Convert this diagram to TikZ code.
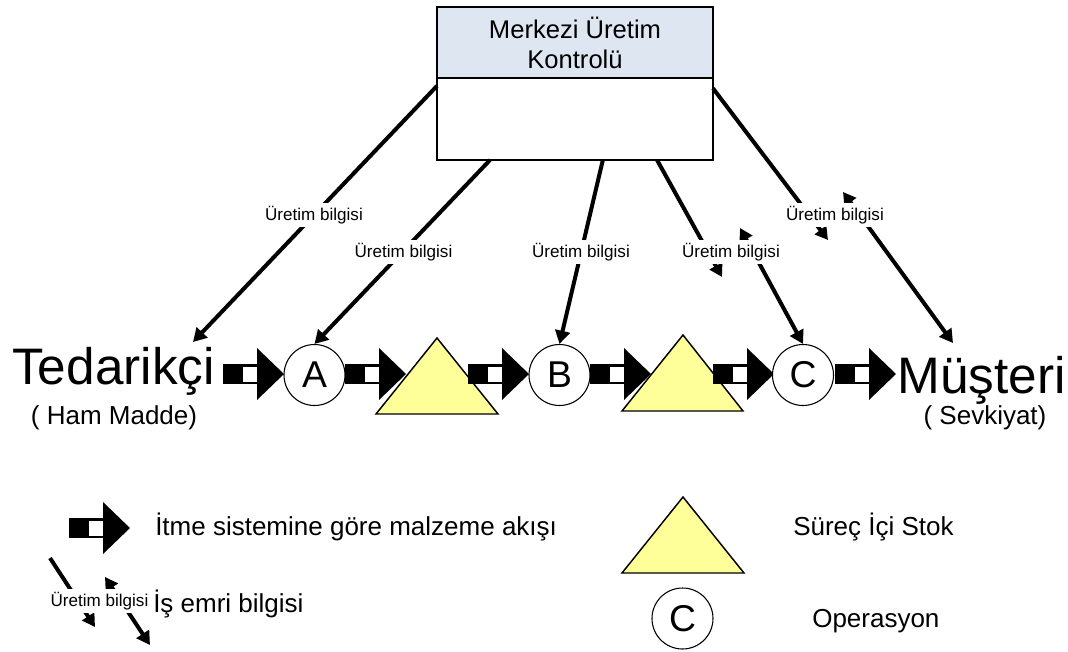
\documentclass[tikz,border=0pt]{standalone}
\usepackage{fontspec}
\setmainfont{Liberation Sans}
\usetikzlibrary{arrows.meta}
\definecolor{headblue}{RGB}{222,230,242}
\definecolor{stockyellow}{RGB}{255,255,153}
\begin{document}
\begin{tikzpicture}[x=0.75pt,y=-0.75pt,
  ctrlbox/.style={draw, line width=1pt, minimum width=207pt, minimum height=114.75pt,
    inner sep=0pt, outer sep=0pt, fill=white},
  headbox/.style={draw, line width=1pt, fill=headblue, minimum width=207pt,
    minimum height=53.25pt, inner sep=0pt, outer sep=0pt, align=center,
    font=\fontsize{19.2pt}{22.5pt}\selectfont},
  opnode/.style={circle, draw, line width=0.8pt, fill=white, minimum size=45.75pt,
    inner sep=0pt, font=\fontsize{28pt}{33pt}\selectfont},
  bigword/.style={inner sep=0pt, anchor=base west, font=\fontsize{38.5pt}{45pt}\selectfont},
  subword/.style={inner sep=0pt, anchor=base, font=\fontsize{19.5pt}{23pt}\selectfont},
  legtext/.style={inner sep=0pt, anchor=base west, font=\fontsize{19.5pt}{23pt}\selectfont},
  infolabel/.style={fill=white, inner sep=2pt, font=\fontsize{12.8pt}{15pt}\selectfont},
  infoline/.style={line width=3pt},
  bighead/.style={-{Triangle[length=10pt,width=11pt]}},
  smallhead/.style={-{Triangle[length=9.5pt,width=10.5pt]}},
  twohead/.style={{Triangle[length=9.5pt,width=10.5pt]}-{Triangle[length=10pt,width=11pt]}},
  stock/.style={draw, line width=1.1pt, fill=stockyellow, line join=miter},
  pics/pusharrow/.style={code={
    \fill[black] (0,-10) rectangle (35,10);
    \fill[white] (20,-7.5) rectangle (34,7.5);
    \fill[black] (34,-26) -- (61,0) -- (34,26) -- cycle;
  }},
]
\useasboundingbox (0,0) rectangle (1068,651);

% central control box with its header
\node[ctrlbox] (ctrl) at (575,83.5) {};
\node[headbox, anchor=north] (head) at (ctrl.north) {Merkezi Üretim\\Kontrolü};

% supplier and customer
\node[bigword] (ted) at (12,384) {Tedarikçi};
\node[subword] (tedsub) at (114,424) {( Ham Madde)};
\node[bigword] (mus) at (897,393) {Müşteri};
\node[subword] (mussub) at (985,424) {( Sevkiyat)};

% material flow line: push arrows, operations and in-process stock
\pic at (223,374) {pusharrow};
\node[opnode] (A) at (314.5,375) {A};
\pic at (345,374) {pusharrow};
\filldraw[stock] (376,414) -- (437,338) -- (498,414) -- cycle;
\pic at (468,374) {pusharrow};
\node[opnode] (B) at (559.5,375) {B};
\pic at (590,374) {pusharrow};
\filldraw[stock] (622,411) -- (683,335) -- (743,411) -- cycle;
\pic at (713,374) {pusharrow};
\node[opnode] (C) at (803,375) {C};
\pic at (835,374) {pusharrow};

% ends of the information arrows
\coordinate (tedin) at (193,342);
\coordinate (musin) at (953,343);
\coordinate (m4a) at (722,277);
\coordinate (m4b) at (740,228);
\coordinate (m5a) at (828,240);
\coordinate (m5b) at (843,192);

% production information arrows
\draw[infoline, bighead] (ctrl.181.45) -- (tedin);
\draw[infoline, bighead] (ctrl.222.7) -- (A.north);
\draw[infoline, bighead] (ctrl.290.1) -- (B.north);
\draw[infoline, smallhead] (ctrl.317) -- (m4a);
\draw[infoline, twohead] (m4b) -- (C.north);
\draw[infoline, smallhead] (ctrl.358.55) -- (m5a);
\draw[infoline, twohead] (m5b) -- (musin);

\node[infolabel] (lab1) at (314,215) {Üretim bilgisi};
\node[infolabel] (lab2) at (403.5,252) {Üretim bilgisi};
\node[infolabel] (lab3) at (581,252) {Üretim bilgisi};
\node[infolabel] (lab4) at (731,252) {Üretim bilgisi};
\node[infolabel] (lab5) at (835,215) {Üretim bilgisi};

% legend
\pic at (69,528) {pusharrow};
\node[legtext] (legpush) at (155,535) {İtme sistemine göre malzeme akışı};
\filldraw[stock] (622,573) -- (683,497) -- (744,573) -- cycle;
\node[legtext] (legstock) at (793,535) {Süreç İçi Stok};

\coordinate (l1a) at (50,558);
\coordinate (l1b) at (95,627);
\coordinate (l2a) at (105,577);
\coordinate (l2b) at (150,645);
\draw[infoline, smallhead] (l1a) -- (l1b);
\draw[infoline, twohead] (l2a) -- (l2b);
\node[infolabel] (leglab) at (99.5,601) {Üretim bilgisi};
\node[legtext] (leginfo) at (153,612) {İş emri bilgisi};

\node[opnode] (legC) at (682.5,618.5) {C};
\node[legtext] (legop) at (812,627) {Operasyon};
\end{tikzpicture}
\end{document}
